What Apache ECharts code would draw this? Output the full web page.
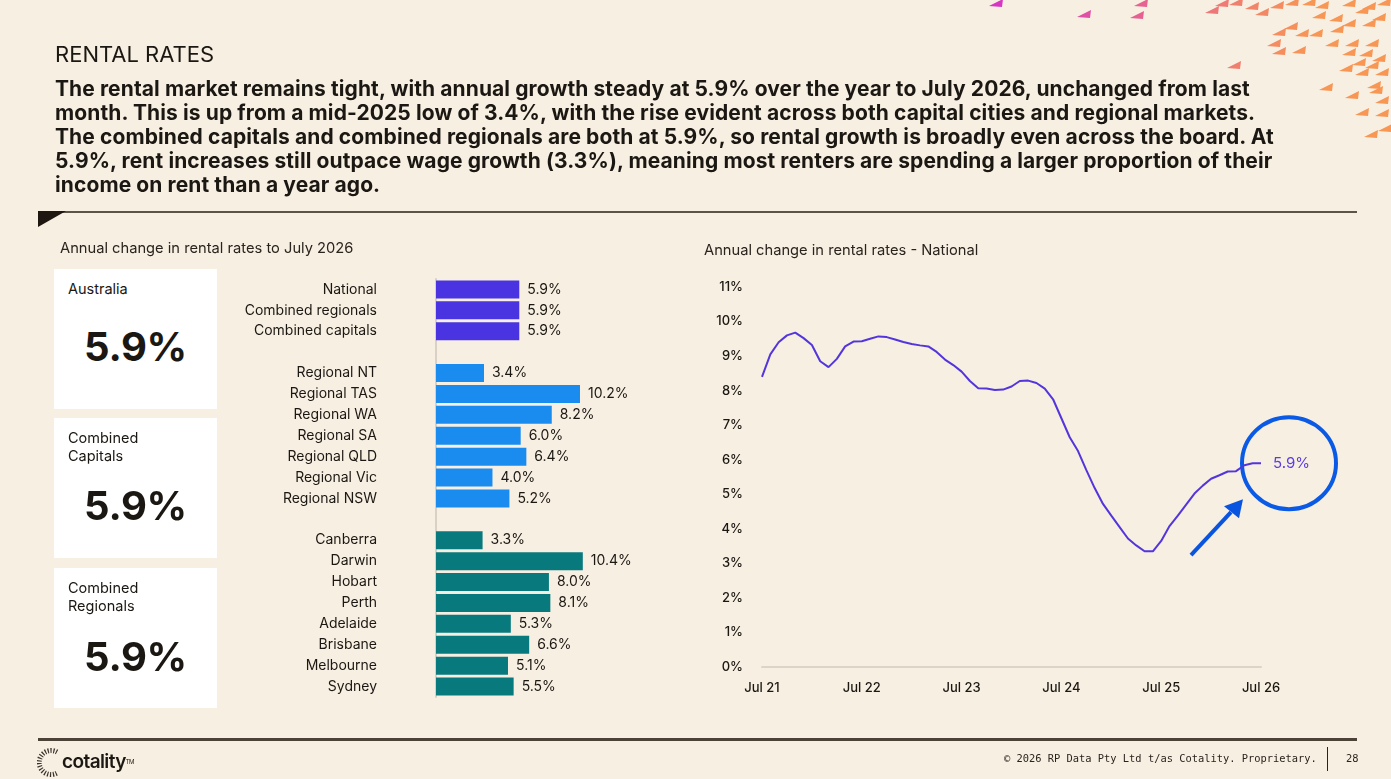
<!DOCTYPE html>
<html>
<head>
<meta charset="utf-8">
<title>Rental rates</title>
<script src="https://cdn.jsdelivr.net/npm/echarts@6/dist/echarts.min.js"></script>
<style>
  html, body { margin: 0; padding: 0; width: 1391px; height: 779px; overflow: hidden; background: #f7efe2; font-family: Inter, 'Noto Sans', sans-serif; color: #1b1712; }
  #chart { position: absolute; left: 0; top: 0; width: 1391px; height: 779px; }
  .t { position: absolute; white-space: nowrap; }
  .box { position: absolute; left: 54px; width: 163px; height: 140px; background: #ffffff; }
  .box .lbl { position: absolute; left: 14px; top: 11px; font-size: 14.5px; line-height: 18px; }
  .box .num { position: absolute; left: 0; width: 100%; text-align: center; font-size: 40px; font-weight: 700; letter-spacing: -0.3px; }
  .rule { position: absolute; left: 38px; width: 1319px; }
</style>
</head>
<body>
<div id="chart"></div>

<div class="t" style="left:55px; top:41px; font-size:22px; line-height:26px;">RENTAL RATES</div>
<div class="t" style="left:55px; top:77px; font-size:21px; line-height:24px; font-weight:700; letter-spacing:0.1px;">
The rental market remains tight, with annual growth steady at 5.9% over the year to July 2026, unchanged from last<br>
month. This is up from a mid-2025 low of 3.4%, with the rise evident across both capital cities and regional markets.<br>
The combined capitals and combined regionals are both at 5.9%, so rental growth is broadly even across the board. At<br>
5.9%, rent increases still outpace wage growth (3.3%), meaning most renters are spending a larger proportion of their<br>
income on rent than a year ago.
</div>

<div class="rule" style="top:211px; height:2px; background:#5e5349;"></div>
<svg class="t" style="left:38px; top:211px;" width="30" height="18"><polygon points="0,0 28,0 0,16" fill="#1e1610"/></svg>

<div class="t" style="left:60px; top:239px; font-size:14.7px; line-height:18px; color:#2a241e;">Annual change in rental rates to July 2026</div>
<div class="t" style="left:704px; top:241px; font-size:14.7px; line-height:18px; color:#2a241e;">Annual change in rental rates - National</div>

<div class="box" style="top:269px;">
  <div class="lbl">Australia</div>
  <div class="num" style="top:53px;">5.9%</div>
</div>
<div class="box" style="top:418px;">
  <div class="lbl">Combined<br>Capitals</div>
  <div class="num" style="top:63px;">5.9%</div>
</div>
<div class="box" style="top:568px;">
  <div class="lbl">Combined<br>Regionals</div>
  <div class="num" style="top:64px;">5.9%</div>
</div>

<div class="rule" style="top:738px; height:3px; background:#4d4237;"></div>
<svg class="t" style="left:37px; top:748px;" width="26" height="30">
  <path d="M20 4 A12 12 0 1 0 20 25" fill="none" stroke="#3a332c" stroke-width="5" stroke-dasharray="1.2 1.6"/>
</svg>
<div class="t" style="left:62px; top:750px; font-size:19px; line-height:24px; font-weight:600; letter-spacing:-0.6px;">cotality<span style="font-size:6px; vertical-align:top; font-weight:400;">TM</span></div>
<div class="t" style="left:1004px; top:751px; font-family:'DejaVu Sans Mono', monospace; font-size:10.4px; line-height:14px; color:#2a241e;">© 2026 RP Data Pty Ltd t/as Cotality. Proprietary.</div>
<div class="t" style="left:1327px; top:747px; width:1px; height:24px; background:#2a241e;"></div>
<div class="t" style="left:1346px; top:751px; font-family:'DejaVu Sans Mono', monospace; font-size:10.4px; line-height:14px; color:#2a241e;">28</div>

<script>
// 柱状图数据
const nationalNames = ['National', 'Combined regionals', 'Combined capitals'];
const nationalValues = [5.9, 5.9, 5.9];
const regionalNames = ['Regional NT', 'Regional TAS', 'Regional WA', 'Regional SA', 'Regional QLD', 'Regional Vic', 'Regional NSW'];
const regionalValues = [3.4, 10.2, 8.2, 6.0, 6.4, 4.0, 5.2];
const capitalNames = ['Canberra', 'Darwin', 'Hobart', 'Perth', 'Adelaide', 'Brisbane', 'Melbourne', 'Sydney'];
const capitalValues = [3.3, 10.4, 8.0, 8.1, 5.3, 6.6, 5.1, 5.5];

// 折线图数据 Jul 21 - Jul 26, 月度
const monthNames = ['Jan', 'Feb', 'Mar', 'Apr', 'May', 'Jun', 'Jul', 'Aug', 'Sep', 'Oct', 'Nov', 'Dec'];
const nationalSeries = [
  8.4, 9.05, 9.4, 9.6, 9.68, 9.52, 9.32, 8.85, 8.68, 8.92, 9.28, 9.42,
  9.43, 9.5, 9.57, 9.55, 9.48, 9.41, 9.35, 9.31, 9.28, 9.12, 8.9, 8.74,
  8.55, 8.28, 8.07, 8.06, 8.02, 8.03, 8.12, 8.28, 8.29, 8.22, 8.06, 7.75,
  7.2, 6.65, 6.25, 5.7, 5.18, 4.72, 4.38, 4.05, 3.72, 3.52, 3.35, 3.35,
  3.65, 4.08, 4.38, 4.7, 5.02, 5.25, 5.45, 5.55, 5.66, 5.67, 5.84, 5.9,
  5.9
];

// 右上角装饰小三角
const sparks = [
  [997, 3], [1085, 14], [1142, 3], [1138, 15], [1213, 10], [1223, 3], [1237, 2], [1253, 6],
  [1263, 12], [1278, 5], [1293, 2], [1310, 2], [1323, 5], [1350, 3], [1370, 6], [1385, 2],
  [1280, 32], [1292, 26], [1303, 33], [1317, 33], [1320, 15], [1337, 18], [1338, 29], [1350, 23],
  [1363, 10], [1370, 23], [1380, 17], [1275, 43], [1280, 51], [1300, 50], [1333, 43], [1353, 43],
  [1373, 43], [1350, 52], [1367, 53], [1380, 58], [1360, 62], [1373, 65], [1235, 65], [1347, 68],
  [1363, 72], [1383, 72], [1327, 87], [1375, 85], [1353, 95], [1383, 100], [1377, 90], [1363, 112],
  [1383, 113], [1386, 128], [1372, 134]
];

const colors = { national: '#4a33e0', regional: '#1a8cf0', capital: '#087a7e' };

const barCats = [];
const barData = [];
function addGroup(names, values, color) {
  names.forEach((n, i) => {
    barCats.push(n);
    barData.push({ value: values[i], itemStyle: { color: color } });
  });
}
addGroup(nationalNames, nationalValues, colors.national);
barCats.push(' ');
barData.push(null);
addGroup(regionalNames, regionalValues, colors.regional);
barCats.push('  ');
barData.push(null);
addGroup(capitalNames, capitalValues, colors.capital);

const monthLabels = [];
for (let i = 0; i < nationalSeries.length; i++) {
  const m = (6 + i) % 12;
  const y = 21 + Math.floor((6 + i) / 12);
  monthLabels.push(monthNames[m] + ' ' + y);
}

function sparkColor(x) {
  // 从洋红渐变到橙色
  const t = Math.max(0, Math.min(1, (x - 990) / 320));
  const c0 = [214, 52, 200], c1 = [248, 150, 84];
  const c = c0.map((v, k) => Math.round(v + (c1[k] - v) * t));
  return 'rgb(' + c.join(',') + ')';
}

const chartOpts = {
  animation: false,
  textStyle: { fontFamily: 'Inter, Noto Sans, sans-serif' },
  grid: [
    { left: 436, top: 279, width: 169.4, height: 418 },
    { left: 762, top: 287, width: 499, height: 380 }
  ],
  xAxis: [
    { gridIndex: 0, type: 'value', min: 0, max: 12, show: false },
    {
      gridIndex: 1,
      type: 'category',
      data: monthLabels,
      boundaryGap: false,
      axisLine: { lineStyle: { color: '#dcd4c8', width: 2 } },
      axisTick: { show: false },
      axisLabel: { interval: 11, margin: 15, color: '#1b1712', fontSize: 13, fontWeight: 500 }
    }
  ],
  yAxis: [
    {
      gridIndex: 0,
      type: 'category',
      inverse: true,
      data: barCats,
      axisLine: { lineStyle: { color: '#d9d1c6', width: 2 } },
      axisTick: { show: false },
      axisLabel: { margin: 59, color: '#1b1712', fontSize: 14 }
    },
    {
      gridIndex: 1,
      type: 'value',
      min: 0,
      max: 11,
      interval: 1,
      axisLine: { show: false },
      axisTick: { show: false },
      splitLine: { show: false },
      axisLabel: { formatter: '{value}%', margin: 19, color: '#1b1712', fontSize: 13, fontWeight: 500 }
    }
  ],
  series: [
    {
      type: 'bar',
      xAxisIndex: 0,
      yAxisIndex: 0,
      data: barData,
      barWidth: 18,
      label: {
        show: true,
        position: 'right',
        distance: 8,
        color: '#1b1712',
        fontSize: 14,
        formatter: p => (p.value == null ? '' : p.value.toFixed(1) + '%')
      }
    },
    {
      type: 'line',
      xAxisIndex: 1,
      yAxisIndex: 1,
      data: nationalSeries,
      showSymbol: false,
      lineStyle: { color: '#5236dc', width: 2 },
      endLabel: {
        show: true,
        distance: 12,
        color: '#5b3ee0',
        fontSize: 15,
        formatter: p => p.value.toFixed(1) + '%'
      }
    }
  ]
};

const chart = echarts.init(document.getElementById('chart'));
chart.setOption(chartOpts);

// 注释圆圈和箭头，跟随最后一个点
const last = chart.convertToPixel({ xAxisIndex: 1, yAxisIndex: 1 }, [monthLabels.length - 1, nationalSeries[nationalSeries.length - 1]]);
const cx = last[0] + 28, cy = last[1];
const tip = [cx - 46, cy + 36];
const graphics = [
  {
    type: 'ellipse',
    shape: { cx: cx, cy: cy, rx: 47, ry: 46 },
    style: { fill: 'none', stroke: '#0a5ae6', lineWidth: 4 }
  },
  {
    type: 'line',
    shape: { x1: cx - 98, y1: cy + 92, x2: cx - 58, y2: cy + 49 },
    style: { stroke: '#0a55e0', lineWidth: 4 }
  },
  {
    type: 'polygon',
    shape: { points: [tip, [cx - 65, cy + 43], [cx - 50, cy + 55]] },
    style: { fill: '#0a55e0' }
  }
];
sparks.forEach(s => {
  graphics.push({
    type: 'polygon',
    shape: { points: [[s[0] - 8, s[1] + 3], [s[0] + 6, s[1] - 4], [s[0] + 5, s[1] + 4]] },
    style: { fill: sparkColor(s[0]) }
  });
});
chart.setOption({ graphic: graphics });
</script>
</body>
</html>
